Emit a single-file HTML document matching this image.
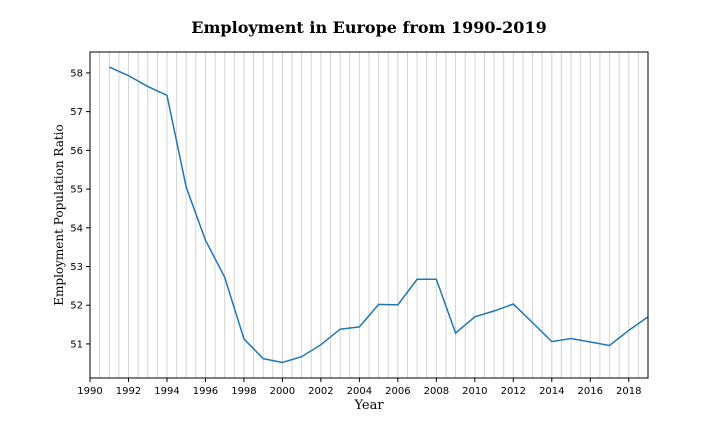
<!DOCTYPE html>
<html><head><meta charset="utf-8"><style>
body{margin:0;background:#fff;width:720px;height:432px;overflow:hidden}
svg text{font-family:"DejaVu Sans","Liberation Sans",sans-serif}
</style></head><body>
<svg id="chart" width="720" height="432" xmlns="http://www.w3.org/2000/svg">
<text x="369" y="33" text-anchor="middle" font-size="16" font-weight="bold" style="font-family:'DejaVu Serif','Liberation Serif',serif">Employment in Europe from 1990-2019</text>
<g id="grid"></g>
<g id="ticks"></g>
<path id="line" fill="none" stroke="#1f77b4" stroke-width="1.5"/>
<rect x="90" y="52" width="558" height="326" fill="none" stroke="#000" stroke-width="1"/>
<text x="369" y="409" text-anchor="middle" font-size="13" style="font-family:'DejaVu Serif','Liberation Serif',serif">Year</text>
<text transform="translate(63,215) rotate(-90)" text-anchor="middle" font-size="12" style="font-family:'DejaVu Serif','Liberation Serif',serif">Employment Population Ratio</text>
</svg>
<script>
const years=[1991,1992,1993,1994,1995,1996,1997,1998,1999,2000,2001,2002,2003,2004,2005,2006,2007,2008,2009,2010,2011,2012,2013,2014,2015,2016,2017,2018,2019];
const ratios=[58.15,57.93,57.65,57.42,55.05,53.68,52.72,51.13,50.62,50.52,50.67,50.98,51.38,51.44,52.02,52.01,52.67,52.67,51.28,51.70,51.85,52.03,51.55,51.06,51.14,51.05,50.96,51.35,51.70];
const xTicks=[1990,1992,1994,1996,1998,2000,2002,2004,2006,2008,2010,2012,2014,2016,2018];
const yTicks=[51,52,53,54,55,56,57,58];
const X0=90,X1=648,Y0=378,Y1=52,xmin=1990,xmax=2019,ymin=50.12,ymax=58.54;
const sx=v=>X0+(v-xmin)/(xmax-xmin)*(X1-X0);
const sy=v=>Y0-(v-ymin)/(ymax-ymin)*(Y0-Y1);
const NS="http://www.w3.org/2000/svg";
const grid=document.getElementById('grid'),ticks=document.getElementById('ticks');
for(let k=1;k<(xmax-xmin)*2;k++){
  const x=sx(xmin+k/2);
  const l=document.createElementNS(NS,'line');
  l.setAttribute('x1',x);l.setAttribute('x2',x);l.setAttribute('y1',Y1);l.setAttribute('y2',Y0);
  l.setAttribute('stroke','#d3d3d3');l.setAttribute('stroke-width','1');
  
  
  grid.appendChild(l);
}
xTicks.forEach(t=>{
  const x=sx(t);
  const l=document.createElementNS(NS,'line');
  l.setAttribute('x1',x);l.setAttribute('x2',x);l.setAttribute('y1',Y0);l.setAttribute('y2',Y0+4);l.setAttribute('stroke','#000');
  
  
  ticks.appendChild(l);
  const tx=document.createElementNS(NS,'text');
  tx.setAttribute('x',x);tx.setAttribute('y',Y0+16);tx.setAttribute('text-anchor','middle');tx.setAttribute('font-size','10');
  tx.textContent=t;
  
  
  ticks.appendChild(tx);
});
yTicks.forEach(t=>{
  const y=sy(t);
  const l=document.createElementNS(NS,'line');
  l.setAttribute('x1',X0-4);l.setAttribute('x2',X0);l.setAttribute('y1',y);l.setAttribute('y2',y);l.setAttribute('stroke','#000');
  
  
  ticks.appendChild(l);
  const tx=document.createElementNS(NS,'text');
  tx.setAttribute('x',X0-7);tx.setAttribute('y',y+3.5);tx.setAttribute('text-anchor','end');tx.setAttribute('font-size','10');
  tx.textContent=t;
  
  
  ticks.appendChild(tx);
});
document.getElementById('line').setAttribute('d',years.map((y,i)=>(i?'L':'M')+sx(y).toFixed(2)+','+sy(ratios[i]).toFixed(2)).join(''));
</script>
</body></html>
